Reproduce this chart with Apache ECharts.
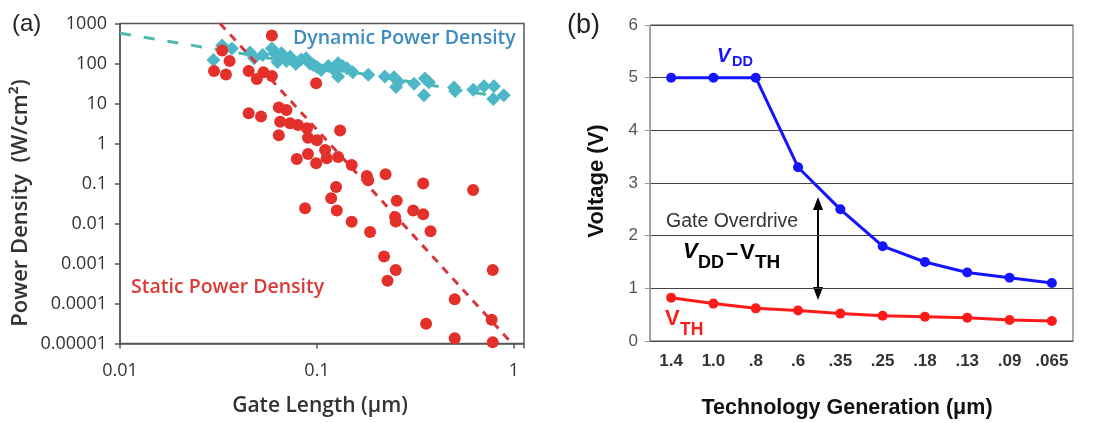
<!DOCTYPE html>
<html>
<head>
<meta charset="utf-8">
<script src="https://cdn.jsdelivr.net/npm/echarts@6.0.0/dist/echarts.min.js"></script>
<style>
html,body{margin:0;padding:0;background:#fff;}
#chart{width:1112px;height:423px;}
</style>
</head>
<body>
<div id="chart"></div>
<script>
// ---------- Panel (a): power density vs gate length ----------
const staticGateLength = [0.059,0.033,0.036,0.030,0.0345,0.045,0.0495,0.0535,0.059,0.099,0.045,0.052,0.064,0.070,0.065,0.073,0.080,0.089,0.064,0.090,0.100,0.131,0.079,0.090,0.099,0.110,0.112,0.128,0.150,0.179,0.182,0.223,0.346,0.62,0.125,0.087,0.118,0.126,0.150,0.186,0.254,0.249,0.251,0.308,0.346,0.377,0.219,0.251,0.228,0.78,0.50,0.358,0.77,0.50,0.78];
const staticPower = [500,210,115,65,53,65,41,60,49,32,5.7,4.7,8,6.9,3.5,3.2,2.9,2.4,1.6,1.4,1.2,2.1,0.41,0.55,0.32,0.69,0.43,0.46,0.29,0.154,0.12,0.17,0.10,0.069,0.082,0.024,0.043,0.021,0.011,0.0061,0.037,0.0145,0.0112,0.021,0.017,0.0064,0.0015,0.00069,0.00037,0.00069,0.000127,0.000031,0.000039,0.0000135,0.0000107];
const dynamicGateLength = [0.0298,0.033,0.037,0.0457,0.048,0.053,0.059,0.061,0.063,0.070,0.073,0.078,0.088,0.096,0.105,0.114,0.128,0.128,0.142,0.152,0.182,0.221,0.246,0.252,0.259,0.311,0.353,0.370,0.349,0.496,0.502,0.621,0.704,0.791,0.785,0.888,0.066,0.083,0.092,0.100,0.120,0.135];
const dynamicPower = [122,280,237,188,135,163,237,183,109,115,148,97,135,92,69,87,101,47,76,60,52,47,45,26,35,31,42,34,16,25,20.5,22,27,27,13,16,180,125,100,82,74,85];
const dynamicTrendX = [0.01, 0.9];
const dynamicTrendY = [570, 14];
const staticTrendX = [0.0322, 0.977];
const staticTrendY = [1000, 0.00001];
const xTickLabelsA = ['0.01','0.1','1'];
const yTickLabelsA = ['0.00001','0.0001','0.001','0.01','0.1','1','10','100','1000'];

// ---------- Panel (b): supply & threshold voltage ----------
const techNodes = ['1.4','1.0','.8','.6','.35','.25','.18','.13','.09','.065'];
const vdd = [5,5,5,3.3,2.5,1.8,1.5,1.3,1.2,1.1];
const vth = [0.82,0.71,0.62,0.58,0.52,0.48,0.46,0.44,0.40,0.38];

const zip = (a,b) => a.map((v,i) => [v, b[i]]);
const expIdx = v => Math.round(Math.log10(v));
const isDecade = v => Math.abs(Math.log10(v) - expIdx(v)) < 1e-6;

const SANS = '"Liberation Sans", Arial, sans-serif';
const OPEN = '"Open Sans", sans-serif';

const chart = echarts.init(document.getElementById('chart'), null, {renderer:'canvas'});
const option = {
  animation: false,
  backgroundColor: '#fff',
  grid: [
    {left:120, top:23.5, width:404, height:320, show:true, borderColor:'#555', borderWidth:1.5, backgroundColor:'transparent'},
    {left:650, top:25, width:423, height:316, show:true, borderColor:'#555', borderWidth:1, backgroundColor:'transparent'}
  ],
  xAxis: [
    {type:'log', logBase:10, min:0.01, max:1.124, gridIndex:0,
     axisLine:{lineStyle:{color:'#555', width:1.5}},
     axisTick:{show:true, length:5, lineStyle:{color:'#555', width:1.5}},
     axisLabel:{fontFamily:OPEN, fontSize:18, color:'#333', margin:18,
       formatter: v => isDecade(v) ? xTickLabelsA[expIdx(v)+2] : ''},
     splitLine:{show:false}, minorTick:{show:false}},
    {type:'category', gridIndex:1, data:techNodes, boundaryGap:true,
     axisLine:{lineStyle:{color:'#444', width:1}},
     axisTick:{show:false},
     axisLabel:{fontFamily:SANS, fontSize:17, fontWeight:'bold', color:'#333', margin:12, interval:0}}
  ],
  yAxis: [
    {type:'log', logBase:10, min:0.00001, max:1000, gridIndex:0,
     axisLine:{lineStyle:{color:'#555', width:1.5}},
     axisTick:{show:true, length:5, lineStyle:{color:'#555', width:1.5}},
     axisLabel:{fontFamily:OPEN, fontSize:18, color:'#333', margin:13,
       formatter: v => isDecade(v) ? yTickLabelsA[expIdx(v)+5] : ''},
     splitLine:{show:false}, minorTick:{show:false}},
    {type:'value', gridIndex:1, min:0, max:6, interval:1,
     axisLine:{show:true, lineStyle:{color:'#999', width:1}},
     axisTick:{show:true, length:5, lineStyle:{color:'#999'}},
     axisLabel:{fontFamily:SANS, fontSize:17, color:'#555', margin:12},
     splitLine:{show:true, lineStyle:{color:'#444', width:1}}}
  ],
  series: [
    {type:'line', xAxisIndex:0, yAxisIndex:0, data: zip(dynamicTrendX, dynamicTrendY), symbol:'none',
     lineStyle:{color:'#4fb9a9', width:3, type:[11,13]}, z:2},
    {type:'scatter', xAxisIndex:0, yAxisIndex:0, data: zip(dynamicGateLength, dynamicPower), symbol:'diamond', symbolSize:14,
     itemStyle:{color:'#4db7c7', opacity:1}, z:3},
    {type:'line', xAxisIndex:0, yAxisIndex:0, data: zip(staticTrendX, staticTrendY), symbol:'none',
     lineStyle:{color:'#d8363c', width:3, type:[8,7]}, z:4},
    {type:'scatter', xAxisIndex:0, yAxisIndex:0, data: zip(staticGateLength, staticPower), symbol:'circle', symbolSize:12,
     itemStyle:{color:'#e4302a', opacity:1}, z:5},
    {type:'line', xAxisIndex:1, yAxisIndex:1, data: vdd, symbol:'circle', symbolSize:10, showSymbol:true,
     lineStyle:{color:'#1414ff', width:3}, itemStyle:{color:'#1414ff'}, z:5},
    {type:'line', xAxisIndex:1, yAxisIndex:1, data: vth, symbol:'circle', symbolSize:10, showSymbol:true,
     lineStyle:{color:'#ff1a1a', width:3}, itemStyle:{color:'#ff1a1a'}, z:5}
  ],
  graphic: [
    {type:'text', x:12, y:24, style:{text:'(a)', font:'24px '+SANS, fill:'#222', align:'left', verticalAlign:'middle'}},
    {type:'text', x:567, y:26, style:{text:'(b)', font:'27px '+SANS, fill:'#222', align:'left', verticalAlign:'middle'}},
    {type:'text', x:293, y:38, style:{text:'Dynamic Power Density', font:'600 19.5px '+OPEN, fill:'#3c8cc0', align:'left', verticalAlign:'middle'}},
    {type:'text', x:131, y:287, style:{text:'Static Power Density', font:'600 19.5px '+OPEN, fill:'#dc3a36', align:'left', verticalAlign:'middle'}},
    {type:'text', x:21, y:203, rotation:Math.PI/2, style:{text:'Power Density  (W/cm²)', font:'600 22px '+OPEN, fill:'#333', align:'center', verticalAlign:'middle'}},
    {type:'text', x:320, y:406, style:{text:'Gate Length (μm)', font:'600 21px '+OPEN, fill:'#333', align:'center', verticalAlign:'middle'}},
    {type:'text', x:597, y:181, rotation:Math.PI/2, style:{text:'Voltage (V)', font:'bold 22px '+SANS, fill:'#111', align:'center', verticalAlign:'middle'}},
    {type:'text', x:847, y:408, style:{text:'Technology Generation (μm)', font:'bold 21.5px '+SANS, fill:'#111', align:'center', verticalAlign:'middle'}},
    // V_DD label
    {type:'text', x:717, y:56, style:{text:'V', font:'italic bold 20px '+SANS, fill:'#1414ff', align:'left', verticalAlign:'middle'}},
    {type:'text', x:732, y:62, style:{text:'DD', font:'bold 14.5px '+SANS, fill:'#1414ff', align:'left', verticalAlign:'middle'}},
    // Gate overdrive annotation
    {type:'text', x:666, y:222, style:{text:'Gate Overdrive', font:'19.5px '+SANS, fill:'#333', align:'left', verticalAlign:'middle'}},
    {type:'text', x:683, y:252, style:{text:'V', font:'italic bold 22px '+SANS, fill:'#000', align:'left', verticalAlign:'middle'}},
    {type:'text', x:698, y:263, style:{text:'DD', font:'bold 18px '+SANS, fill:'#000', align:'left', verticalAlign:'middle'}},
    {type:'text', x:726, y:254, style:{text:'–', font:'bold 22px '+SANS, fill:'#000', align:'left', verticalAlign:'middle'}},
    {type:'text', x:740, y:253, style:{text:'V', font:'bold 22px '+SANS, fill:'#000', align:'left', verticalAlign:'middle'}},
    {type:'text', x:755, y:263, style:{text:'TH', font:'bold 19px '+SANS, fill:'#000', align:'left', verticalAlign:'middle'}},
    // V_TH label
    {type:'text', x:665, y:319, style:{text:'V', font:'bold 22px '+SANS, fill:'#ff1a1a', align:'left', verticalAlign:'middle'}},
    {type:'text', x:680, y:330, style:{text:'TH', font:'bold 17.5px '+SANS, fill:'#ff1a1a', align:'left', verticalAlign:'middle'}},
    // double arrow
    {type:'line', shape:{x1:818, y1:205, x2:818, y2:291}, style:{stroke:'#000', lineWidth:2}},
    {type:'polygon', shape:{points:[[818,197],[813,210],[823,210]]}, style:{fill:'#000'}},
    {type:'polygon', shape:{points:[[818,300],[813,287],[823,287]]}, style:{fill:'#000'}}
  ]
};
chart.setOption(option);
</script>
</body>
</html>
